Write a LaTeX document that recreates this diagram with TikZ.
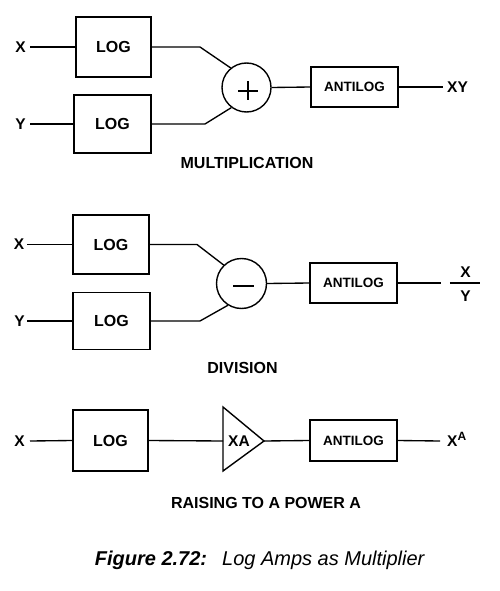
\documentclass[tikz,border=0pt]{standalone}
\usepackage{fontspec}
\setmainfont{Liberation Sans}
\begin{document}
\begin{tikzpicture}[x=1pt,y=-1pt,
  blk/.style={draw, line width=1.4pt, inner sep=0pt, font=\bfseries\fontsize{16}{16}\selectfont},
  antibox/.style={blk, minimum width=87pt, minimum height=40pt, font=\bfseries\fontsize{13.5}{14}\selectfont},
  sig/.style={inner xsep=4pt, inner ysep=0pt, font=\bfseries\fontsize{15.5}{16}\selectfont},
  ttl/.style={inner sep=0pt, font=\bfseries\fontsize{16}{16}\selectfont},
  opcirc/.style={circle, draw, line width=1.4pt, inner sep=0pt, minimum size=49pt},
  wire/.style={line width=1.35pt},
  sign/.style={line width=2.8pt}]
\useasboundingbox (0,0) rectangle (500,591);

% ---------------- Multiplication ----------------
\node[sig, anchor=east] (x1) at (30,47) {X};
\node[sig, anchor=east] (y1) at (30,124) {Y};
\node[blk, minimum width=75pt, minimum height=60pt] (log1a) at (113.5,47) {LOG};
\node[blk, minimum width=77pt, minimum height=58pt] (log1b) at (112.5,124) {LOG};
\node[opcirc] (sum1) at (246.5,87.5) {};
\draw[sign] (238,91) -- (258,91);
\draw[sign] (248,81.5) -- (248,100.5);
\node[antibox] (anti1) at (354.5,87) {ANTILOG};
\node[sig, anchor=west] (xy) at (443,87) {XY};
\coordinate (c1a) at (200,47);
\coordinate (c1b) at (205,124);
\draw[wire] (x1.east) -- (log1a.west);
\draw[wire] (y1.east) -- (log1b.west);
\draw[wire] (log1a.east) -- (c1a) -- (sum1.129);
\draw[wire] (log1b.east) -- (c1b) -- (sum1.233);
\draw[wire] (sum1.east) -- (anti1.west);
\draw[wire] (anti1.east) -- (xy.west);
\node[ttl] (t1) at (247,162.5) {MULTIPLICATION};

% ---------------- Division ----------------
\node[sig, anchor=east, inner xsep=2.5pt] (x2) at (27,244.5) {X};
\node[sig, anchor=east, inner xsep=2pt] (y2) at (27,321) {Y};
\node[blk, minimum width=76pt, minimum height=59pt] (log2a) at (111,244.5) {LOG};
\node[blk, minimum width=77pt, minimum height=57pt] (log2b) at (111.5,321) {LOG};
\node[opcirc, minimum size=50pt] (dif) at (241.5,283.5) {};
\draw[sign] (233,286) -- (254,286);
\node[antibox] (anti2) at (353.5,283) {ANTILOG};
\coordinate (c2a) at (197,244.5);
\coordinate (c2b) at (200,321);
\coordinate (e2) at (441,283);
\draw[wire] (x2.east) -- (log2a.west);
\draw[wire] (y2.east) -- (log2b.west);
\draw[wire] (log2a.east) -- (c2a) -- (dif.134);
\draw[wire] (log2b.east) -- (c2b) -- (dif.238);
\draw[wire] (dif.east) -- (anti2.west);
\draw[wire] (anti2.east) -- (e2);
\node[inner sep=0pt, minimum width=30pt, minimum height=1pt] (fr) at (465,283) {};
\draw[wire] (fr.west) -- (fr.east);
\node[ttl, font=\bfseries\fontsize{15.5}{16}\selectfont] (frx) at (465.5,272.5) {X};
\node[ttl, font=\bfseries\fontsize{15.5}{16}\selectfont] (fry) at (465.5,296.5) {Y};
\node[ttl] (t2) at (242.5,367.5) {DIVISION};

% ---------------- Raising to a power ----------------
\node[sig, anchor=east, inner xsep=5pt] (x3) at (30,441) {X};
\node[blk, minimum width=75pt, minimum height=61pt] (log3) at (110.5,440.5) {LOG};
\draw[line width=1.4pt] (223,407) -- (264,441) -- (223,471) -- cycle;
\node[inner sep=0pt, font=\bfseries\fontsize{15.5}{16}\selectfont] (amp) at (239,441) {XA};
\coordinate (ampin) at (223,441);
\coordinate (ampout) at (264,441);
\node[antibox, minimum height=41pt] (anti3) at (353.5,440.5) {ANTILOG};
\coordinate (e3) at (440,441);
\node[sig, anchor=base west, inner xsep=0pt] (xa) at (447,446.5) {X\raisebox{6.5pt}{\fontsize{12}{12}\selectfont A}};
\draw[wire] (x3.east) -- (log3.west);
\draw[wire] (log3.east) -- (ampin);
\draw[wire] (ampout) -- (anti3.west);
\draw[wire] (anti3.east) -- (e3);
\node[ttl] (t3) at (266,503) {RAISING TO A POWER A};

% ---------------- Caption ----------------
\node[inner sep=0pt, font=\fontsize{20}{22}\selectfont] (cap) at (260,560)
  {\textbf{\textit{Figure 2.72:}}\hspace{15pt}\textit{Log Amps as Multiplier}};
\end{tikzpicture}
\end{document}
